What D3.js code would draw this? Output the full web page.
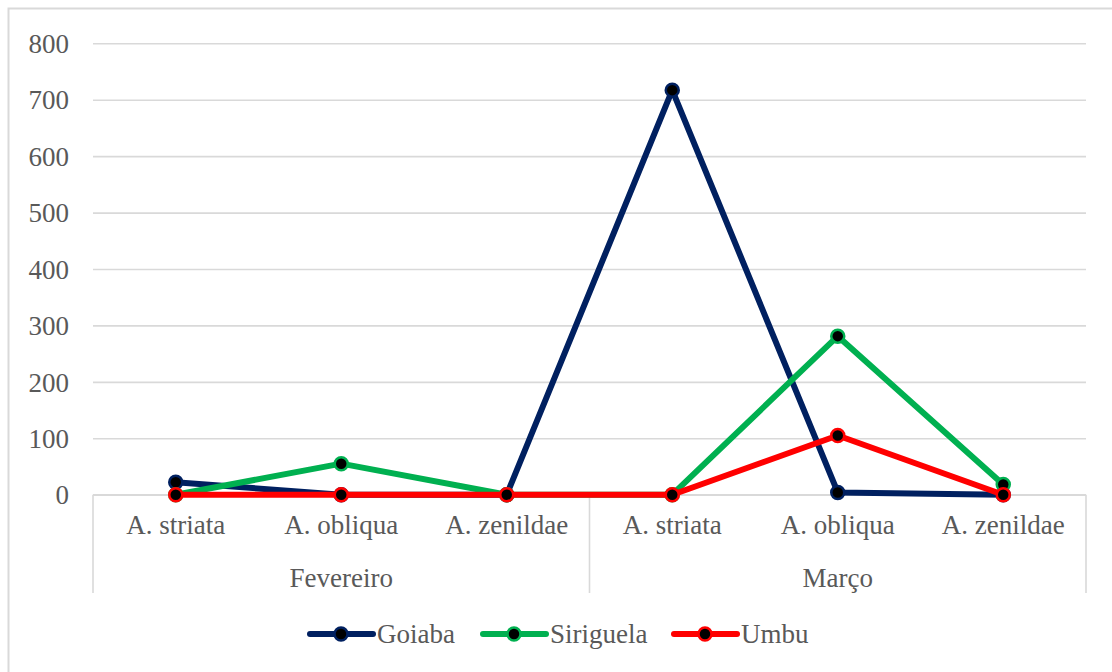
<!DOCTYPE html>
<html><head><meta charset="utf-8">
<script src="https://cdn.jsdelivr.net/npm/d3@7"></script>
<style>
html,body{margin:0;padding:0;background:#fff;}
svg{display:block;}
svg text{font-family:"Liberation Serif","Times New Roman",serif;fill:#595959;}
</style></head>
<body><svg id="c" width="1112" height="672"></svg>
<script>
const months = ["Fevereiro", "Março"];
const species = ["A. striata", "A. obliqua", "A. zenildae"];
const yTicks = [0, 100, 200, 300, 400, 500, 600, 700, 800];
const seriesNames = ["Goiaba", "Siriguela", "Umbu"];
const goiaba = [22, 0, 0, 717, 4, 0];
const siriguela = [0, 55, 0, 0, 281, 18];
const umbu = [0, 0, 0, 0, 105, 0];
const colors = ["#002060", "#00B050", "#FF0000"];

const series = [goiaba, siriguela, umbu];
const cats = [];
months.forEach((m, mi) => species.forEach((s, si) => cats.push({key: mi + "-" + si, month: m, sp: s})));

const FONT = '"Liberation Serif","Times New Roman",serif';
const FS = 27;
const svg = d3.select("#c");
const L = 93, R = 1086, T = 43.3, B = 494.7;
const gridCol = "#D9D9D9";

svg.append("rect").attr("x", 8.5).attr("y", 8.5).attr("width", 1112).attr("height", 672)
  .attr("fill", "#fff").attr("stroke", gridCol).attr("stroke-width", 2);

const x = d3.scaleBand().domain(cats.map(d => d.key)).range([L, R]).padding(0);
const xc = k => x(k) + x.bandwidth() / 2;
const y = d3.scaleLinear().domain([0, 800]).range([B, T]);

// y axis with gridlines
const gy = svg.append("g").attr("transform", `translate(${L},0)`)
  .call(d3.axisLeft(y).tickValues(yTicks).tickSize(-(R - L)).tickPadding(24));
gy.attr("font-family", FONT);
gy.select(".domain").remove();
gy.selectAll(".tick line").attr("stroke", gridCol).attr("stroke-width", 1.6);
gy.selectAll(".tick text").attr("font-size", FS).attr("fill", "#595959")
  .style("font-family", FONT).attr("dy", "0.34em");

// category axis
const gx = svg.append("g").attr("transform", `translate(0,${B})`)
  .call(d3.axisBottom(x).tickSize(0).tickPadding(30).tickFormat(k => cats.find(c => c.key === k).sp));
gx.attr("font-family", FONT);
gx.select(".domain").remove();
gx.selectAll(".tick text").attr("font-size", FS).attr("fill", "#595959")
  .style("font-family", FONT).attr("dy", "0.34em");

// axis baseline and group separators
svg.append("line").attr("x1", L).attr("x2", R).attr("y1", B).attr("y2", B)
  .attr("stroke", gridCol).attr("stroke-width", 1.6);
const seps = [0, 3, 6].map(i => i < 6 ? x(cats[i].key) : R);
svg.selectAll(".sep").data(seps).enter().append("line")
  .attr("x1", d => d).attr("x2", d => d).attr("y1", B).attr("y2", 593)
  .attr("stroke", gridCol).attr("stroke-width", 1.6);

// month labels
svg.selectAll(".month").data(months).enter().append("text")
  .attr("x", (m, i) => xc(cats[i * 3 + 1].key)).attr("y", 587)
  .attr("text-anchor", "middle").attr("font-size", FS).style("font-family", FONT).text(d => d);

// series
const line = d3.line().x((d, i) => xc(cats[i].key)).y(d => y(d));
series.forEach((vals, si) => {
  svg.append("path").datum(vals).attr("d", line).attr("fill", "none")
    .attr("stroke", colors[si]).attr("stroke-width", 6).attr("stroke-linejoin", "round");
  svg.selectAll(".m" + si).data(vals).enter().append("circle")
    .attr("cx", (d, i) => xc(cats[i].key)).attr("cy", d => y(d)).attr("r", 6.5)
    .attr("fill", "#000").attr("stroke", colors[si]).attr("stroke-width", 2.5);
});

// legend
const legX = [310, 483, 674];
const lg = svg.selectAll(".leg").data(seriesNames).enter().append("g")
  .attr("transform", (d, i) => `translate(${legX[i]},634)`);
lg.append("line").attr("x1", 0).attr("x2", 63).attr("y1", 0).attr("y2", 0)
  .attr("stroke", (d, i) => colors[i]).attr("stroke-width", 6).attr("stroke-linecap", "round");
lg.append("circle").attr("cx", 31).attr("cy", 0).attr("r", 6.5).attr("fill", "#000")
  .attr("stroke", (d, i) => colors[i]).attr("stroke-width", 2.5);
lg.append("text").attr("x", 67).attr("y", 0).attr("dy", "0.34em").attr("font-size", FS)
  .style("font-family", FONT).text(d => d);
</script></body></html>
